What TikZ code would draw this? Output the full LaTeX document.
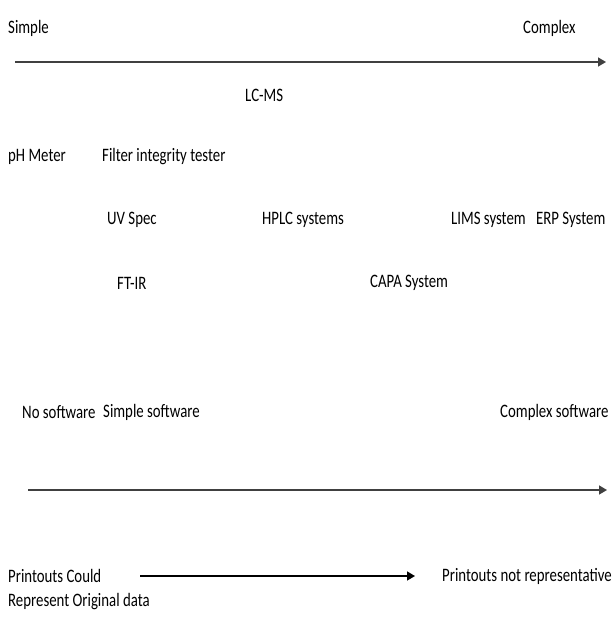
\documentclass[tikz,border=0pt]{standalone}
\usepackage{fontspec}
\setmainfont[FakeStretch=0.78]{Carlito}
\usetikzlibrary{arrows.meta}
\begin{document}
\begin{tikzpicture}[x=1pt,y=-1pt,
  lbl/.style={anchor=west,inner sep=0pt,font=\fontsize{19}{22}\selectfont,text=black},
  axis/.style={line width=1.6pt,draw=black!75,-{Triangle[length=8pt,width=9pt]}}]
\useasboundingbox (0,0) rectangle (614,629);
% top scale
\node[lbl] (simple) at (8,28) {Simple};
\node[lbl] (complex) at (523,28) {Complex};
\coordinate (a1s) at (15,62);
\coordinate (a1e) at (606,62);
\draw[axis] (a1s) -- (a1e);
\node[lbl] (lcms) at (245,95) {LC-MS};
\node[lbl] (ph) at (8,157) {pH Meter};
\node[lbl] (filt) at (102,157) {Filter integrity tester};
\node[lbl] (uv) at (107,220) {UV Spec};
\node[lbl] (hplc) at (262,220) {HPLC systems};
\node[lbl] (lims) at (451,220) {LIMS system};
\node[lbl] (erp) at (536,220) {ERP System};
\node[lbl] (ftir) at (117,283) {FT-IR};
\node[lbl] (capa) at (370,283) {CAPA System};
% software scale
\node[lbl] (nosw) at (22,412) {No software};
\node[lbl] (simsw) at (103,412) {Simple software};
\node[lbl] (comsw) at (500,412) {Complex software};
\coordinate (a2s) at (28,490);
\coordinate (a2e) at (607,490);
\draw[axis] (a2s) -- (a2e);
% printouts
\node[lbl] (pc) at (8,576) {Printouts Could};
\node[lbl] (rod) at (8,602) {Represent Original data};
\node[lbl] (pnr) at (442,576) {Printouts not representative};
\coordinate (a3s) at (140,576);
\draw[axis,draw=black] (a3s) -- (pnr.west -| 415,0);
\end{tikzpicture}
\end{document}
